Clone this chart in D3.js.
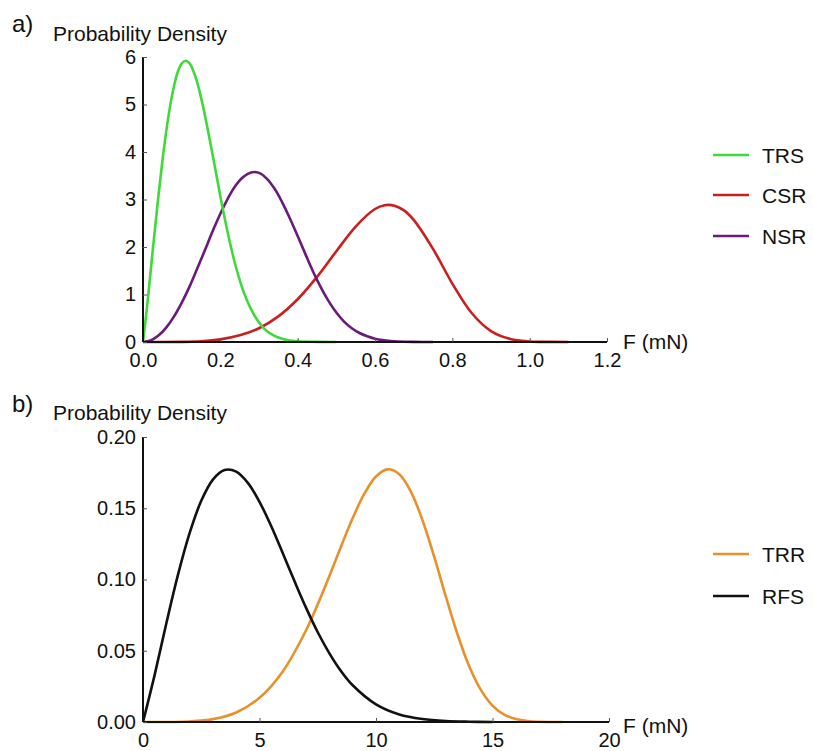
<!DOCTYPE html>
<html>
<head>
<meta charset="utf-8">
<script src="https://cdn.jsdelivr.net/npm/d3@7"></script>
<style>
  body { margin: 0; background: #fff; }
  text { font-family: "Liberation Sans", Arial, sans-serif; fill: #111; }
</style>
</head>
<body>
<div id="chart"></div>
<script>
// panel a) values
const TRS_F = [0, 0.01, 0.02, 0.03, 0.04, 0.05, 0.06, 0.07, 0.08, 0.09, 0.10, 0.11, 0.12, 0.13, 0.14, 0.15, 0.16, 0.17, 0.18, 0.19, 0.20, 0.22, 0.24, 0.26, 0.28, 0.30, 0.32, 0.34, 0.36, 0.38, 0.40, 0.45, 0.50]
const TRS_PD = [0, 0.71, 1.51, 2.31, 3.08, 3.80, 4.43, 4.96, 5.38, 5.69, 5.86, 5.92, 5.87, 5.71, 5.47, 5.15, 4.78, 4.37, 3.94, 3.51, 3.07, 2.27, 1.59, 1.06, 0.68, 0.41, 0.23, 0.13, 0.07, 0.03, 0.015, 0.002, 0]

const CSR_F = [0, 0.10, 0.15, 0.20, 0.25, 0.30, 0.35, 0.40, 0.45, 0.50, 0.55, 0.60, 0.625, 0.65, 0.675, 0.70, 0.75, 0.80, 0.85, 0.90, 0.95, 1.00, 1.05, 1.10]
const CSR_PD = [0, 0.003, 0.017, 0.056, 0.14, 0.29, 0.54, 0.90, 1.37, 1.91, 2.43, 2.80, 2.88, 2.87, 2.77, 2.57, 1.96, 1.23, 0.61, 0.23, 0.064, 0.012, 0.002, 0]

const NSR_F = [0, 0.02, 0.04, 0.06, 0.08, 0.10, 0.12, 0.14, 0.16, 0.18, 0.20, 0.22, 0.24, 0.26, 0.28, 0.30, 0.32, 0.34, 0.36, 0.38, 0.40, 0.42, 0.44, 0.46, 0.48, 0.50, 0.52, 0.54, 0.56, 0.58, 0.60, 0.62, 0.64, 0.66, 0.70, 0.75]
const NSR_PD = [0, 0.034, 0.135, 0.303, 0.534, 0.823, 1.16, 1.54, 1.93, 2.33, 2.70, 3.03, 3.30, 3.48, 3.57, 3.56, 3.44, 3.23, 2.94, 2.60, 2.23, 1.85, 1.48, 1.15, 0.86, 0.62, 0.43, 0.29, 0.19, 0.12, 0.069, 0.039, 0.021, 0.011, 0.003, 0]

const A_XTICKS = [0, 0.2, 0.4, 0.6, 0.8, 1.0, 1.2]
const A_YTICKS = [0, 1, 2, 3, 4, 5, 6]

// panel b)
const TRR_F = [0, 2, 3, 4, 5, 6, 7, 7.5, 8, 8.5, 9, 9.5, 10, 10.5, 11, 11.5, 12, 12.5, 13, 13.5, 14, 14.5, 15, 15.5, 16, 16.5, 17, 18]
const TRR_PD = [0, 0.0004, 0.002, 0.0067, 0.017, 0.0355, 0.0644, 0.0826, 0.1025, 0.1232, 0.1431, 0.1602, 0.1723, 0.1773, 0.1739, 0.1615, 0.1414, 0.1158, 0.0879, 0.0614, 0.0391, 0.0225, 0.0115, 0.0052, 0.0021, 0.0007, 0.0002, 0]

const RFS_F = [0, 0.5, 1, 1.5, 2, 2.5, 3, 3.5, 4, 4.5, 5, 5.5, 6, 6.5, 7, 7.5, 8, 8.5, 9, 10, 11, 12, 13, 14, 15]
const RFS_PD = [0, 0.0331, 0.0691, 0.1032, 0.1325, 0.1552, 0.1701, 0.1768, 0.1757, 0.1678, 0.1545, 0.1375, 0.1184, 0.0989, 0.0801, 0.0630, 0.0482, 0.0357, 0.0258, 0.0124, 0.0053, 0.0021, 0.0007, 0.0002, 0]

const B_XTICKS = [0, 5, 10, 15, 20]
const B_YTICKS = [0, 0.05, 0.10, 0.15, 0.20]

const width = 813
const height = 751

const svg = d3.select('#chart')
    .append('svg')
    .attr('width', width)
    .attr('height', height)

const zip = (xs, ys) => xs.map((x, i) => [x, ys[i]])

const drawPanel = (p) => {
    const x = d3.scaleLinear().domain(p.xDomain).range([143, p.xEnd])
    const y = d3.scaleLinear().domain(p.yDomain).range([p.y0, p.yTop])
    const g = svg.append('g')

    g.append('text')
        .attr('x', 12).attr('y', p.labelY)
        .style('font-size', '24px')
        .text(p.label)
    g.append('text')
        .attr('x', 53).attr('y', p.titleY)
        .style('font-size', '21px')
        .text('Probability Density')

    const line = d3.line()
        .x(d => x(d[0]))
        .y(d => y(Math.max(0, d[1])))
        .curve(d3.curveCatmullRom.alpha(0.5))

    p.series.forEach(s => {
        g.append('path')
            .datum(zip(s.f, s.pd))
            .attr('d', line)
            .attr('fill', 'none')
            .attr('stroke', s.color)
            .attr('stroke-width', 2.6)
            .attr('stroke-linejoin', 'round')
    })

    // axes go on top of the curves
    const xAxis = d3.axisBottom(x).tickValues(p.xTicks).tickSize(-4).tickFormat(p.xFmt).tickPadding(11)
    const yAxis = d3.axisLeft(y).tickValues(p.yTicks).tickSize(-4).tickFormat(p.yFmt).tickPadding(8)

    const gx = g.append('g').attr('transform', `translate(0,${p.y0})`).call(xAxis)
    const gy = g.append('g').attr('transform', 'translate(143,0)').call(yAxis)
    ;[gx, gy].forEach(a => {
        a.select('.domain').attr('stroke', '#111').attr('stroke-width', 2)
        a.selectAll('.tick line').attr('stroke', '#555').attr('stroke-width', 1)
        a.selectAll('.tick text').style('font-size', '20px').attr('fill', '#111')
            .style('font-family', '"Liberation Sans", Arial, sans-serif')
    })
    gx.select('.domain').attr('d', `M143,0H${p.xEnd}`)
    gy.select('.domain').attr('d', `M0,${p.y0}V${p.yTop}`)
    gy.selectAll('.tick text').attr('x', -7)

    g.append('text')
        .attr('x', 623).attr('y', p.fY)
        .style('font-size', '21px')
        .text('F (mN)')

    // legend
    p.series.slice().sort((a, b) => a.order - b.order).forEach((s, i) => {
        const ly = p.legendY[i]
        g.append('line')
            .attr('x1', 713).attr('x2', 749)
            .attr('y1', ly).attr('y2', ly)
            .attr('stroke', s.color)
            .attr('stroke-width', 2.6)
        g.append('text')
            .attr('x', 762).attr('y', ly)
            .attr('dy', '0.36em')
            .style('font-size', '21px')
            .text(s.name)
    })
}

drawPanel({
    label: 'a)', labelY: 32, titleY: 41,
    xDomain: [0, 1.2], xEnd: 607,
    yDomain: [0, 6], y0: 342, yTop: 57,
    xTicks: A_XTICKS, yTicks: A_YTICKS,
    xFmt: d3.format('.1f'), yFmt: d3.format('d'),
    fY: 349,
    legendY: [155, 195, 236],
    series: [
        { name: 'CSR', f: CSR_F, pd: CSR_PD, color: '#c8201f', order: 1 },
        { name: 'NSR', f: NSR_F, pd: NSR_PD, color: '#6a1a78', order: 2 },
        { name: 'TRS', f: TRS_F, pd: TRS_PD, color: '#3fd93a', order: 0 }
    ]
})

drawPanel({
    label: 'b)', labelY: 412, titleY: 420,
    xDomain: [0, 20], xEnd: 609,
    yDomain: [0, 0.2], y0: 722, yTop: 437,
    xTicks: B_XTICKS, yTicks: B_YTICKS,
    xFmt: d3.format('d'), yFmt: d3.format('.2f'),
    fY: 733,
    legendY: [554, 596],
    series: [
        { name: 'TRR', f: TRR_F, pd: TRR_PD, color: '#e8912a', order: 0 },
        { name: 'RFS', f: RFS_F, pd: RFS_PD, color: '#111111', order: 1 }
    ]
})
</script>
</body>
</html>
